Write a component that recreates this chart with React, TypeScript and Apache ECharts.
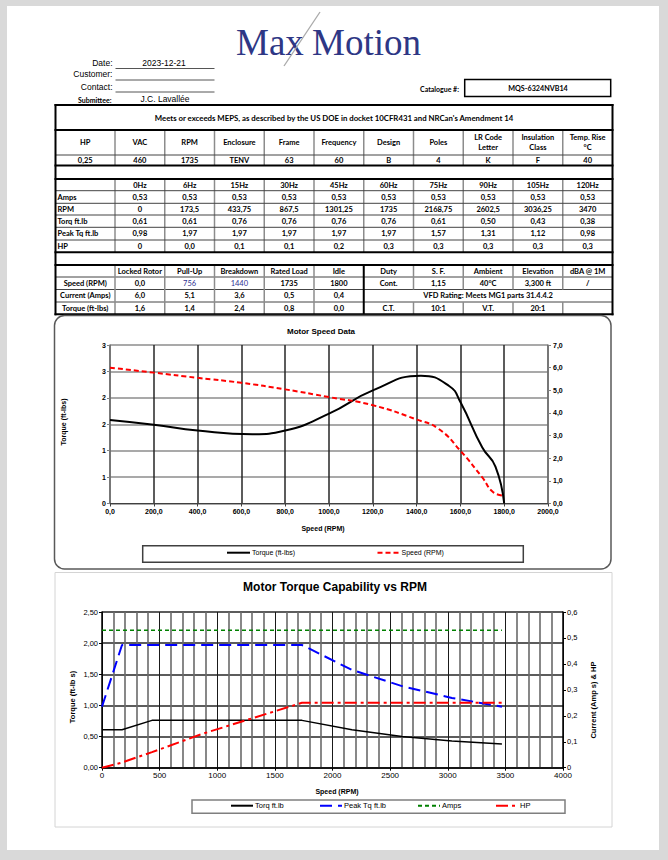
import React, { useEffect, useRef } from 'react';
import * as echarts from 'echarts';

const W = 668;
const H = 860;
const SANS = "'Liberation Sans', Arial, sans-serif";
const TFONT = "Lato, 'Liberation Sans', sans-serif";
const SERIF = "'Liberation Serif', 'Times New Roman', serif";

// ---------- header ----------
const headerLabels = ['Date:', 'Customer:', 'Contact:'];
const headerValues = ['2023-12-21', '', ''];
const submitteeLabel = 'Submittee:';
const submitteeName = 'J.C. Lavallée';
const catalogueLabel = 'Catalogue #:';
const catalogueNo = 'MQS-6324NVB14';
const mepsText = "Meets or exceeds MEPS, as described by the US DOE in docket 10CFR431 and NRCan's Amendment 14";

// ---------- nameplate ----------
const nameplateHeaders = ['HP', 'VAC', 'RPM', 'Enclosure', 'Frame', 'Frequency', 'Design', 'Poles', 'LR Code\nLetter', 'Insulation\nClass', 'Temp. Rise\n°C'];
const nameplateValues = ['0,25', '460', '1735', 'TENV', '63', '60', 'B', '4', 'K', 'F', '40'];

// ---------- VFD table / chart 2 data ----------
const hzLabels = ['0Hz', '6Hz', '15Hz', '30Hz', '45Hz', '60Hz', '75Hz', '90Hz', '105Hz', '120Hz'];
const ampsHz = [0.53, 0.53, 0.53, 0.53, 0.53, 0.53, 0.53, 0.53, 0.53, 0.53];
const rpmHz = [0, 173.5, 433.75, 867.5, 1301.25, 1735, 2168.75, 2602.5, 3036.25, 3470];
const torqHz = [0.61, 0.61, 0.76, 0.76, 0.76, 0.76, 0.61, 0.5, 0.43, 0.38];
const peakTqHz = [0.98, 1.97, 1.97, 1.97, 1.97, 1.97, 1.57, 1.31, 1.12, 0.98];
const hpHz = [0, 0.02, 0.06, 0.13, 0.19, 0.25, 0.25, 0.25, 0.25, 0.25];

// ---------- performance table ----------
const perfHeaders = ['Locked Rotor', 'Pull-Up', 'Breakdown', 'Rated Load', 'Idle'];
const perfSpeed = [0, 756, 1440, 1735, 1800];
const perfCurrent = [6.0, 5.1, 3.6, 0.5, 0.4];
const perfTorque = [1.6, 1.4, 2.4, 0.8, 0.0];
const ratingHeaders = ['Duty', 'S. F.', 'Ambient', 'Elevation', 'dBA @ 1M'];
const ratingValues = ['Cont.', '1,15', '40°C', '3,300 ft', '/'];
const vfdText = 'VFD Rating: Meets MG1 parts 31.4.4.2';
const ratioRow = ['C.T.', '10:1', 'V.T.', '20:1', ''];

// ---------- chart 1 curves ----------
const torqueRpm = [0, 200, 400, 650, 800, 1000, 1200, 1420, 1550, 1600, 1700, 1760, 1800];
const torqueVal = [1.58, 1.49, 1.38, 1.31, 1.38, 1.7, 2.14, 2.42, 2.22, 1.92, 1.06, 0.7, 0.0];
const currentRpm = [0, 200, 400, 600, 800, 1000, 1200, 1400, 1500, 1600, 1700, 1750, 1800];
const currentVal = [6.0, 5.78, 5.55, 5.33, 5.04, 4.7, 4.34, 3.71, 3.3, 2.33, 1.15, 0.5, 0.35];

const comma = (s: string) => s.replace('.', ',');
const fx = (v: number, d: number) => comma(v.toFixed(d));

const colX = [55.5, 115, 164.75, 214.5, 264.25, 314, 363.75, 413.5, 463.25, 513, 562.75, 612.5];
const cx = (i: number) => (colX[i] + colX[i + 1]) / 2;

const txt = (text: string, x: number, y: number, o: any = {}) => ({
  type: 'text',
  x,
  y,
  rotation: o.rotation || 0,
  silent: true,
  style: {
    text,
    fill: o.color || '#000',
    fontSize: o.size || 7.5,
    fontFamily: o.family || TFONT,
    fontWeight: o.weight || 'bold',
    align: o.align || 'center',
    verticalAlign: 'middle',
    textAlign: o.align || 'center',
    textVerticalAlign: 'middle',
    lineHeight: o.lh || undefined,
  },
});
const ln = (x1: number, y1: number, x2: number, y2: number, stroke = '#000', lw = 1) => ({
  type: 'line',
  silent: true,
  shape: { x1, y1, x2, y2 },
  style: { stroke, lineWidth: lw },
});
const box = (x: number, y: number, w: number, h: number, stroke: string, lw: number, r = 0) => ({
  type: 'rect',
  silent: true,
  shape: { x, y, width: w, height: h, r },
  style: { fill: 'none', stroke, lineWidth: lw },
});

function buildGraphics() {
  const g: any[] = [];
  // logo
  const logo = { family: SERIF, size: 37, weight: 'normal', color: '#2e3785' };
  g.push(txt('Max', 236, 42, { ...logo, align: 'left' }));
  g.push(txt('Motion', 421, 42, { ...logo, align: 'right' }));
  g.push(ln(284, 66, 320, 12, '#a8a8a8', 1.3));

  // header fields
  const hy = [63, 73.5, 87];
  const uy = [68.5, 80, 92];
  headerLabels.forEach((l, i) => {
    g.push(txt(l, 112.5, hy[i], { family: SANS, size: 8.5, weight: 'normal', align: 'right' }));
    g.push(ln(115.5, uy[i], 214.5, uy[i], '#555', 1));
    if (headerValues[i]) g.push(txt(headerValues[i], 164, hy[i], { family: SANS, size: 8.5, weight: 'normal' }));
  });
  g.push(txt(submitteeLabel, 111.5, 99.5, { size: 7, align: 'right' }));
  g.push(txt(submitteeName, 165, 99, { family: SANS, size: 8.5, weight: 'normal' }));
  g.push(txt(catalogueLabel, 459, 88.5, { size: 7, align: 'right' }));
  g.push(box(464.7, 79.5, 146, 17, '#000', 1.5));
  g.push(txt(catalogueNo, 538, 88.3, { size: 7.2 }));

  // ----- table frame -----
  const L = colX[0];
  const R = colX[11];
  // T1
  g.push(txt(mepsText, 334, 117.5, { size: 7.8 }));
  for (let i = 1; i <= 10; i++) g.push(ln(colX[i], 130, colX[i], 165.5, '#8c8c8c', 1.5));
  g.push(ln(L, 155, R, 155, '#444', 1));
  nameplateHeaders.forEach((h, i) => g.push(txt(h, cx(i), 142.5, { lh: 10.6 })));
  nameplateValues.forEach((v, i) => g.push(txt(v, cx(i), 160.5)));

  // T2
  for (let i = 1; i <= 10; i++) g.push(ln(colX[i], 179, colX[i], 252.3, '#8c8c8c', 1.5));
  const t2Lines = [190.7, 203.3, 215, 227.3, 240];
  t2Lines.forEach((y) => g.push(ln(L, y, R, y, '#444', 1)));
  hzLabels.forEach((h, i) => g.push(txt(h, cx(i + 1), 185)));
  const rowY = [197, 209.2, 221.2, 233.7, 246.2];
  const rowLabels = ['Amps', 'RPM', 'Torq ft.lb', 'Peak Tq ft.lb', 'HP'];
  rowLabels.forEach((l, r) => g.push(txt(l, 57.5, rowY[r], { align: 'left' })));
  ampsHz.forEach((v, i) => g.push(txt(fx(v, 2), cx(i + 1), rowY[0])));
  rpmHz.forEach((v, i) => g.push(txt(comma(String(v)), cx(i + 1), rowY[1])));
  torqHz.forEach((v, i) => g.push(txt(fx(v, 2), cx(i + 1), rowY[2])));
  peakTqHz.forEach((v, i) => g.push(txt(fx(v, 2), cx(i + 1), rowY[3])));
  hpHz.forEach((v, i) => g.push(txt(i === 0 ? '0' : fx(v, 1), cx(i + 1), rowY[4])));

  // T3
  const t3 = [265, 277, 289.5, 302, 314.3];
  [t3[1], t3[2], t3[3]].forEach((y) => g.push(ln(L, y, R, y, '#444', 1)));
  for (let i = 1; i <= 10; i++) {
    if (i === 6) continue;
    if (i >= 7) {
      g.push(ln(colX[i], t3[0], colX[i], t3[2], '#8c8c8c', 1.5));
      g.push(ln(colX[i], t3[3], colX[i], t3[4], '#8c8c8c', 1.5));
    } else {
      g.push(ln(colX[i], t3[0], colX[i], t3[4], '#8c8c8c', 1.5));
    }
  }
  g.push(ln(colX[6], t3[0], colX[6], t3[4], '#000', 2));
  const t3y = [271, 283.3, 295.8, 308.2];
  perfHeaders.forEach((h, i) => g.push(txt(h, cx(i + 1), t3y[0])));
  ratingHeaders.forEach((h, i) => g.push(txt(h, cx(i + 6), t3y[0])));
  ['Speed (RPM)', 'Current (Amps)', 'Torque (ft-lbs)'].forEach((l, r) => g.push(txt(l, cx(0), t3y[r + 1])));
  perfSpeed.forEach((v, i) =>
    g.push(txt(i === 0 ? fx(v, 1) : String(v), cx(i + 1), t3y[1], { color: i === 1 || i === 2 ? '#2e3192' : '#000', weight: i === 1 || i === 2 ? 'normal' : 'bold' }))
  );
  perfCurrent.forEach((v, i) => g.push(txt(fx(v, 1), cx(i + 1), t3y[2])));
  perfTorque.forEach((v, i) => g.push(txt(fx(v, 1), cx(i + 1), t3y[3])));
  ratingValues.forEach((v, i) => g.push(txt(v, cx(i + 6), t3y[1])));
  g.push(txt(vfdText, (colX[6] + colX[11]) / 2, t3y[2]));
  ratioRow.forEach((v, i) => v && g.push(txt(v, cx(i + 6), t3y[3])));

  // thick horizontal lines & outer border
  [105, 130, 165.5, 179, 252.3, 265, 314.3].forEach((y) => g.push(ln(L - 1, y, R + 1, y, '#000', 2)));
  g.push(ln(L, 104, L, 315.3, '#000', 2));
  g.push(ln(R, 104, R, 315.3, '#000', 2));

  // ----- chart 1 frame -----
  g.push(box(54.5, 315.5, 556.5, 253.5, '#595959', 1.5, 10));
  g.push(txt('Motor Speed Data', 321, 331, { family: SANS, size: 8 }));
  g.push(txt('Torque (ft-lbs)', 63.5, 422, { family: SANS, size: 7, rotation: Math.PI / 2 }));
  g.push(txt('Speed (RPM)', 323, 528.3, { family: SANS, size: 7 }));
  g.push(box(142.7, 545.7, 380.6, 16.6, '#404040', 1.5));

  // ----- chart 2 frame -----
  g.push(box(55, 572.5, 557, 254.5, '#d4d4d4', 1));
  g.push(txt('Motor Torque Capability vs RPM', 335, 587.3, { family: SANS, size: 12 }));
  g.push(txt('Torque (ft-lb s)', 72, 697, { family: SANS, size: 7.5, rotation: Math.PI / 2 }));
  g.push(txt('Current (Amp s) & HP', 593, 700, { family: SANS, size: 7.5, rotation: Math.PI / 2 }));
  g.push(txt('Speed (RPM)', 337, 791, { family: SANS, size: 7 }));
  g.push(box(192, 800, 373, 13.3, '#7f7f7f', 1.5));
  return g;
}

function buildOption() {
  const pairs = (xs: number[], ys: number[]) => xs.map((x, i) => [x, ys[i]]);
  const lab1 = { fontFamily: SANS, fontSize: 7, fontWeight: 'bold', color: '#000' };
  const lab2 = { fontFamily: SANS, fontSize: 8, color: '#000' };
  const legendBase = {
    orient: 'horizontal', padding: 0, itemGap: 0, selectedMode: false,
    itemStyle: { opacity: 0, borderWidth: 0 },
    lineStyle: { opacity: 1 },
  };
  const leg = (name: string, left: number, top: number, w: number, size: number) => ({
    ...legendBase, data: [name], left, top, itemWidth: w, itemHeight: 10,
    textStyle: { fontFamily: SANS, fontSize: size, color: '#000', padding: [0, 0, 0, -3] },
  });
  return {
    animation: false,
    backgroundColor: 'transparent',
    textStyle: { fontFamily: SANS },
    graphic: { elements: buildGraphics() },
    grid: [
      { left: 110, top: 345, width: 438, height: 158.5, containLabel: false },
      { left: 102, top: 612, width: 461, height: 155.7, containLabel: false },
    ],
    xAxis: [
      {
        gridIndex: 0, type: 'value', min: 0, max: 2000, interval: 200,
        axisLine: { show: true, lineStyle: { color: '#404040', width: 1 } },
        axisTick: { show: true, length: 3, lineStyle: { color: '#404040' } },
        axisLabel: { ...lab1, margin: 4, formatter: (v: number) => fx(v, 1) },
        splitLine: { show: true, lineStyle: { color: '#262626', width: 1.5 } },
      },
      {
        gridIndex: 1, type: 'value', min: 0, max: 4000, interval: 500,
        axisLine: { show: true, lineStyle: { color: '#000', width: 1.5 } },
        axisTick: { show: true, length: 3, lineStyle: { color: '#000' } },
        axisLabel: { ...lab2, margin: 4, formatter: (v: number) => String(v) },
        splitLine: { show: true, lineStyle: { color: '#1a1a1a', width: 1 } },
        minorTick: { show: false, splitNumber: 5 },
        minorSplitLine: { show: true, lineStyle: { color: '#6a6a6a', width: 1.6 } },
      },
    ],
    yAxis: [
      {
        gridIndex: 0, type: 'value', min: 0, max: 3, interval: 0.5,
        axisLine: { show: true, lineStyle: { color: '#808080', width: 1.5 } },
        axisTick: { show: true, length: 3, lineStyle: { color: '#808080' } },
        axisLabel: { ...lab1, margin: 4, formatter: (v: number) => String(Math.round(v)) },
        splitLine: { show: true, lineStyle: { color: '#8c8c8c', width: 1.5 } },
      },
      {
        gridIndex: 0, type: 'value', position: 'right', min: 0, max: 7, interval: 1,
        axisLine: { show: true, lineStyle: { color: '#808080', width: 1.5 } },
        axisTick: { show: true, length: 3, lineStyle: { color: '#808080' } },
        axisLabel: { ...lab1, margin: 5, formatter: (v: number) => fx(v, 1) },
        splitLine: { show: false },
      },
      {
        gridIndex: 1, type: 'value', min: 0, max: 2.5, interval: 0.5,
        axisLine: { show: true, lineStyle: { color: '#000', width: 1.5 } },
        axisTick: { show: true, length: 3, lineStyle: { color: '#000' } },
        axisLabel: { ...lab2, fontSize: 7.5, margin: 4, formatter: (v: number) => fx(v, 2) },
        splitLine: { show: true, lineStyle: { color: '#262626', width: 1.5 } },
      },
      {
        gridIndex: 1, type: 'value', position: 'right', min: 0, max: 0.6, interval: 0.1,
        axisLine: { show: true, lineStyle: { color: '#000', width: 1.5 } },
        axisTick: { show: true, length: 3, lineStyle: { color: '#000' } },
        axisLabel: { ...lab2, fontSize: 7.5, margin: 4, formatter: (v: number) => (v === 0 ? '0' : fx(v, 1)) },
        splitLine: { show: false },
      },
    ],
    legend: [
      leg('Torque (ft-lbs)', 226, 548.7, 23, 7),
      leg('Speed (RPM)', 376.5, 548.7, 22, 7),
      leg('Torq ft.lb', 230, 801.7, 22, 7.5),
      leg('Peak Tq ft.lb', 319, 801.7, 22, 7.5),
      leg('Amps', 417, 801.7, 22, 7.5),
      leg('HP', 495, 801.7, 22, 7.5),
    ],
    series: [
      {
        type: 'line', name: 'Torque (ft-lbs)', xAxisIndex: 0, yAxisIndex: 0,
        data: pairs(torqueRpm, torqueVal), smooth: 0.5, symbol: 'none',
        lineStyle: { color: '#000', width: 2 }, itemStyle: { color: '#000' },
      },
      {
        type: 'line', name: 'Speed (RPM)', xAxisIndex: 0, yAxisIndex: 1,
        data: pairs(currentRpm, currentVal), smooth: 0.5, symbol: 'none',
        lineStyle: { color: '#ff0000', width: 2, type: [5, 3] }, itemStyle: { color: '#ff0000' },
      },
      {
        type: 'line', name: 'Torq ft.lb', xAxisIndex: 1, yAxisIndex: 2,
        data: pairs(rpmHz, torqHz), symbol: 'none',
        lineStyle: { color: '#000', width: 1.5 }, itemStyle: { color: '#000' },
      },
      {
        type: 'line', name: 'Peak Tq ft.lb', xAxisIndex: 1, yAxisIndex: 2,
        data: pairs(rpmHz, peakTqHz), symbol: 'none',
        lineStyle: { color: '#0000ff', width: 2, type: [12, 6] }, itemStyle: { color: '#0000ff' },
      },
      {
        type: 'line', name: 'Amps', xAxisIndex: 1, yAxisIndex: 3,
        data: pairs(rpmHz, ampsHz), symbol: 'none',
        lineStyle: { color: '#008000', width: 1.5, type: [4, 3] }, itemStyle: { color: '#008000' },
      },
      {
        type: 'line', name: 'HP', xAxisIndex: 1, yAxisIndex: 3,
        data: pairs(rpmHz, hpHz), symbol: 'none',
        lineStyle: { color: '#ff0000', width: 2, type: [12, 4, 3, 4] }, itemStyle: { color: '#ff0000' },
      },
    ],
  };
}

export default function App() {
  const ref = useRef<HTMLDivElement>(null);
  useEffect(() => {
    document.body.style.margin = '0';
    const chart = echarts.init(ref.current as HTMLDivElement, null, { renderer: 'svg', width: W, height: H });
    chart.setOption(buildOption() as any);
    return () => chart.dispose();
  }, []);
  return (
    <div style={{ position: 'absolute', left: 0, top: 0, width: W, height: H, background: '#d9d9d9', overflow: 'hidden' }}>
      <div style={{ position: 'absolute', left: 7, top: 6, width: 652, height: 844, background: '#ffffff' }} />
      <div ref={ref} style={{ position: 'absolute', left: 0, top: 0, width: W, height: H }} />
    </div>
  );
}
